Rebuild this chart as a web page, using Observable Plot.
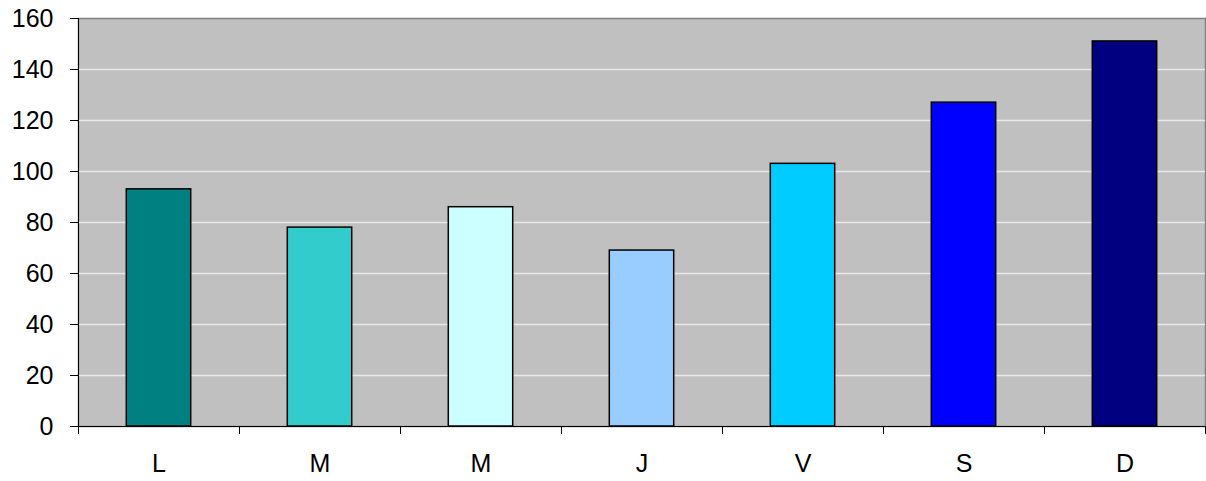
<!DOCTYPE html>
<html>
<head>
<meta charset="utf-8">
<script src="https://cdn.jsdelivr.net/npm/d3@7"></script>
<script src="https://cdn.jsdelivr.net/npm/@observablehq/plot@0.6"></script>
<style>
  html, body { margin: 0; padding: 0; background: #fff; }
  #chart svg { display: block; }
  #chart svg text { font-family: 'Liberation Sans', Arial, sans-serif !important; fill: #000; font-size: 25px !important; }
</style>
</head>
<body>
<div id="chart"></div>
<script>
const categories = ["L", "M", "M", "J", "V", "S", "D"];
const values = [93, 78, 86, 69, 103, 127, 151];
const colors = ["#008080", "#33CCCC", "#CCFFFF", "#99CCFF", "#00CCFF", "#0000FF", "#000080"];
const yTicks = [0, 20, 40, 60, 80, 100, 120, 140, 160];

const data = categories.map((c, i) => ({i, c, v: values[i], color: colors[i]}));

const chart = Plot.plot({
  width: 1206,
  height: 481,
  marginLeft: 78,
  marginRight: 1,
  marginTop: 18,
  marginBottom: 55,
  style: {fontFamily: "'Liberation Sans', Arial, sans-serif", fontSize: "25px", color: "#000", background: "#fff"},
  x: {type: "linear", domain: [0, categories.length], label: null},
  y: {domain: [0, 160], label: null},
  marks: [
    Plot.frame({fill: "#C0C0C0", stroke: "#808080", strokeWidth: 1.5}),
    Plot.gridY(yTicks.slice(1, -1), {stroke: "#e8e8e8", strokeOpacity: 1, strokeWidth: 1.5}),
    Plot.rectY(data, {
      x1: d => d.i + 0.3,
      x2: d => d.i + 0.7,
      y: "v",
      fill: "color",
      stroke: "#000",
      strokeWidth: 1.5
    }),
    Plot.ruleX([0], {stroke: "#000", strokeWidth: 1}),
    Plot.ruleY([0], {stroke: "#000", strokeWidth: 1}),
    Plot.axisY({ticks: yTicks, label: null, tickSize: 8, tickPadding: 17, stroke: "#000", strokeOpacity: 1}),
    Plot.axisX({ticks: d3.range(categories.length + 1), label: null, tickFormat: () => "", tickSize: 8, stroke: "#000", strokeOpacity: 1}),
    Plot.axisX({ticks: d3.range(categories.length).map(i => i + 0.5), label: null, tickFormat: t => categories[Math.floor(t)], tickSize: 0, tickPadding: 28})
  ]
});
document.getElementById("chart").appendChild(chart);
</script>
</body>
</html>
